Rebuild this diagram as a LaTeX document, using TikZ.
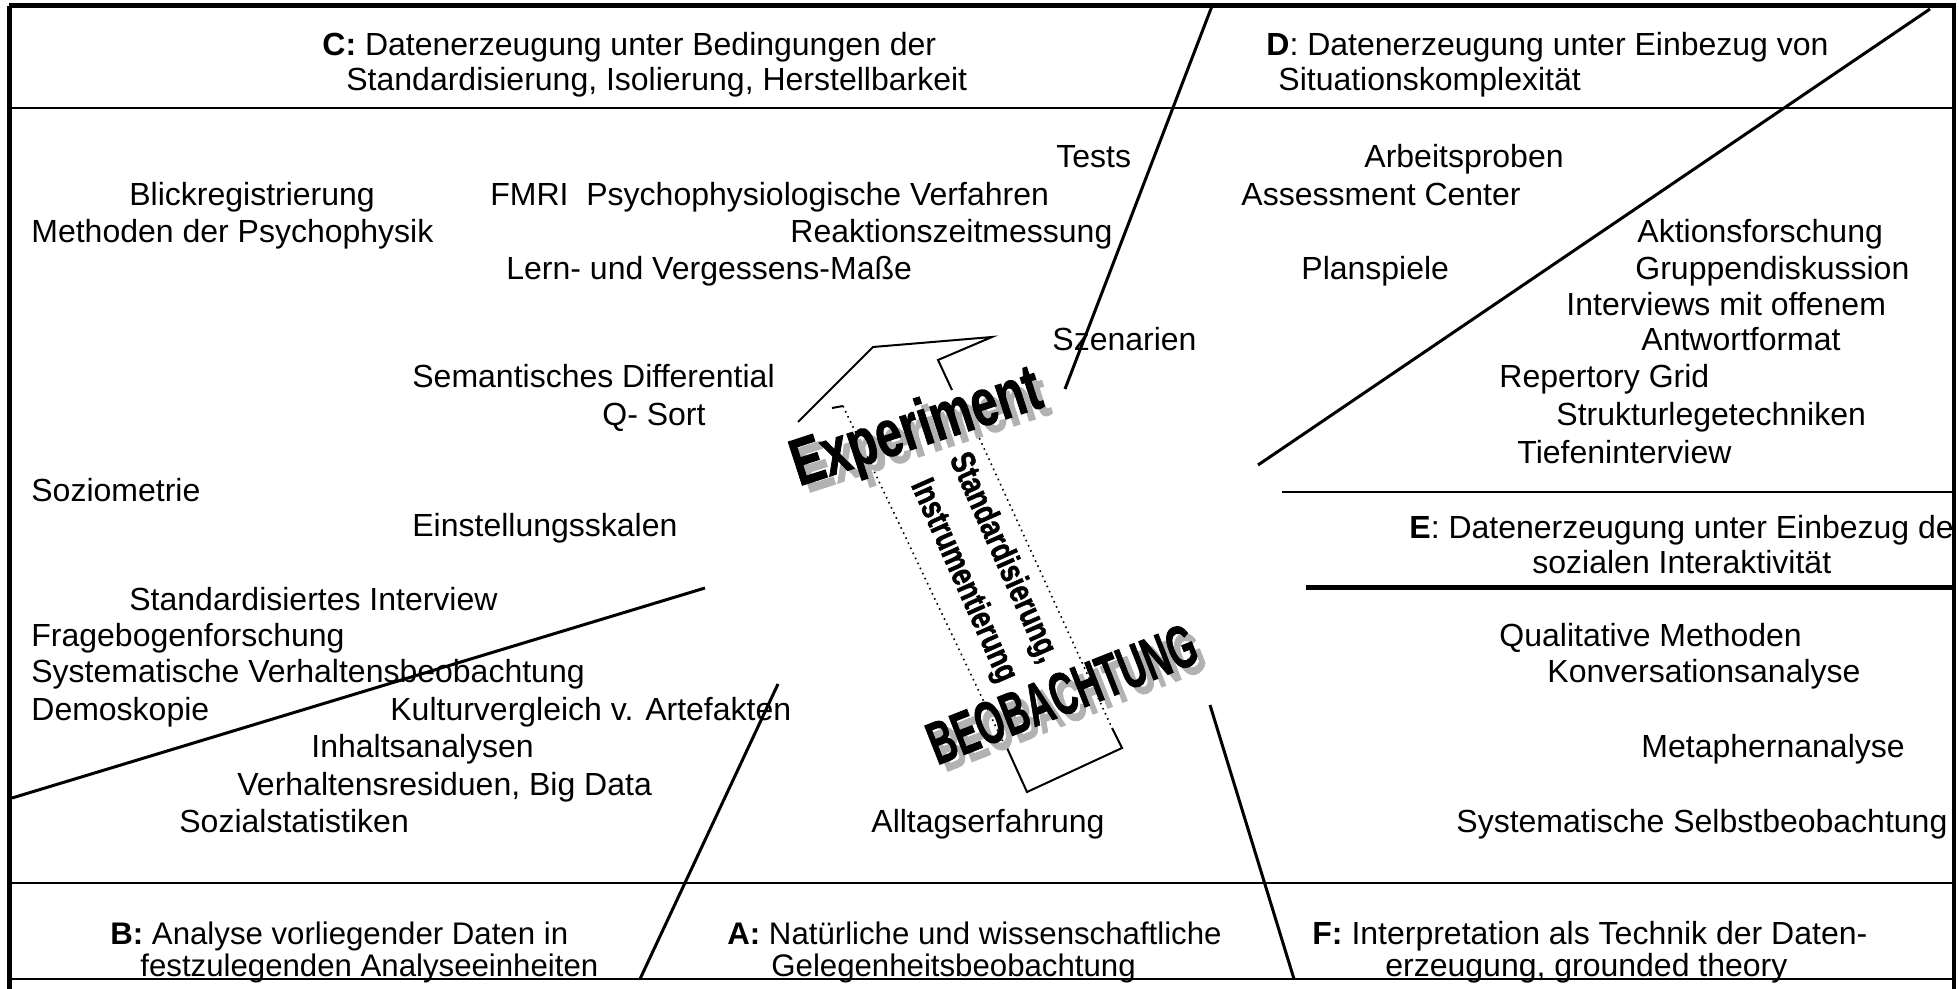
\documentclass[tikz,border=0pt]{standalone}
\usepackage{fontspec}
\setmainfont{Liberation Sans}
\newfontfamily\heavyfont[BoldFeatures={FakeBold=1.6}]{Liberation Sans}
\begin{document}
\begin{tikzpicture}[x=0.5pt,y=-0.5pt,
  frame/.style={line width=2.5pt},
  rule/.style={line width=1.25pt},
  diag/.style={line width=1.5pt},
  lbl/.style={anchor=base west, inner sep=0pt, font=\fontsize{16}{19}\selectfont},
  foot/.style={anchor=base west, inner sep=0pt, font=\fontsize{15.6}{18}\selectfont},
  bigword/.style={inner sep=0pt, font=\heavyfont\bfseries\fontsize{33}{36}\selectfont},
  midword/.style={inner sep=0pt, font=\heavyfont\bfseries\fontsize{30}{34}\selectfont},
  sideword/.style={inner sep=0pt, rotate=-66, font=\heavyfont\bfseries\fontsize{17}{20}\selectfont},
  shadow/.style={text=black!30},
  outline/.style={line width=1pt},
  hidden/.style={line width=0.8pt, dotted}
]
\useasboundingbox (0,0) rectangle (1959,989);

% outer frame and horizontal rules
\draw[frame] (9,6) -- (1956,6);
\draw[frame] (9.5,6) -- (9.5,989);
\draw[line width=2.25pt] (1954,6) -- (1954,989);
\draw[line width=1pt] (9,979) -- (1954,979);
\draw[rule] (9,108) -- (1954,108);
\draw[rule] (9,883) -- (1954,883);
\draw[rule] (1282,492) -- (1954,492);
\draw[frame] (1306,587) -- (1954,587);

% sector boundaries
\draw[diag] (1212,6) -- (1065,389);
\draw[diag] (1930,9) -- (1258,465);
\draw[diag] (12,798) -- (705,588);
\draw[diag] (640,979) -- (778,684);
\draw[diag] (1210,705) -- (1294,979);

% the large arrow from observation to experiment
\draw[outline] (798,422) -- (873,347) -- (992,337) -- (938,360) -- (952,390);
\draw[outline] (832,408) -- (843,406);
\draw[hidden] (843,406) -- (1005,746);
\draw[hidden] (977,433) -- (1112,728);
\draw[outline] (1007,748) -- (1027,792) -- (1122,748) -- (1112,728);

\node[sideword] (std) at (1003,558) {\scalebox{0.78}[1]{Standardisierung,}};
\node[sideword] (instr) at (963,581) {\scalebox{0.78}[1]{Instrumentierung}};

\node[bigword, shadow, rotate=18] at (925,437) {\scalebox{0.72}[1]{Experiment}};
\node[bigword, rotate=18] (exp) at (917,430) {\scalebox{0.72}[1]{Experiment}};
\node[midword, shadow, rotate=21.5] at (1070,701) {\scalebox{0.6}[1]{BEOBACHTUNG}};
\node[midword, rotate=21.5] (beob) at (1062,694) {\scalebox{0.6}[1]{BEOBACHTUNG}};

\begin{scope}
\clip (12,0) rectangle (1952,989);
% headers
\node[lbl] (c1) at (322,56) {\textbf{C:} Datenerzeugung unter Bedingungen der};
\node[lbl] (c2) at (346,91) {Standardisierung, Isolierung, Herstellbarkeit};
\node[lbl] (d1) at (1266,56) {\textbf{D}: Datenerzeugung unter Einbezug von};
\node[lbl] (d2) at (1278,91) {Situationskomplexität};
\node[lbl] (e1) at (1409,538) {\textbf{E}: Datenerzeugung unter Einbezug der};
\node[lbl] (e2) at (1532,573) {sozialen Interaktivität};
\node[foot] (b1) at (110,944) {\textbf{B:} Analyse vorliegender Daten in};
\node[foot] (b2) at (140,976) {festzulegenden Analyseeinheiten};
\node[foot] (a1) at (727,944) {\textbf{A:} Natürliche und wissenschaftliche};
\node[foot] (a2) at (771,976) {Gelegenheitsbeobachtung};
\node[lbl] (f1) at (1312,944) {\textbf{F:} Interpretation als Technik der Daten-};
\node[lbl] (f2) at (1385,976) {erzeugung, grounded theory};

% methods
\node[lbl] (tests) at (1056,168) {Tests};
\node[lbl] (blick) at (129,206) {Blickregistrierung};
\node[lbl] (fmri) at (490,206) {FMRI\ \ Psychophysiologische Verfahren};
\node[lbl] (pphys) at (31,243) {Methoden der Psychophysik};
\node[lbl] (reakt) at (790,243) {Reaktionszeitmessung};
\node[lbl] (lern) at (506,280) {Lern- und Vergessens-Maße};
\node[lbl] (szen) at (1052,351) {Szenarien};
\node[lbl] (sem) at (412,387) {Semantisches Differential};
\node[lbl] (qsort) at (602,426) {Q- Sort};
\node[lbl] (sozio) at (31,501) {Soziometrie};
\node[lbl] (einst) at (412,536) {Einstellungsskalen};
\node[lbl] (stdint) at (129,610) {Standardisiertes Interview};
\node[lbl] (frage) at (31,646) {Fragebogenforschung};
\node[lbl] (sysv) at (31,682) {Systematische Verhaltensbeobachtung};
\node[lbl] (demo) at (31,720) {Demoskopie};
\node[lbl] (kult) at (390,720) {Kulturvergleich v. Artefakten};
\node[lbl] (inh) at (311,757) {Inhaltsanalysen};
\node[lbl] (resid) at (237,795) {Verhaltensresiduen, Big Data};
\node[lbl] (sstat) at (179,832) {Sozialstatistiken};
\node[lbl] (alltag) at (871,832) {Alltagserfahrung};
\node[lbl] (arbeit) at (1364,168) {Arbeitsproben};
\node[lbl] (assess) at (1241,206) {Assessment Center};
\node[lbl] (aktion) at (1637,243) {Aktionsforschung};
\node[lbl] (plan) at (1301,280) {Planspiele};
\node[lbl] (grupp) at (1635,280) {Gruppendiskussion};
\node[lbl] (interv) at (1566,316) {Interviews mit offenem};
\node[lbl] (antw) at (1641,351) {Antwortformat};
\node[lbl] (repg) at (1499,387) {Repertory Grid};
\node[lbl] (strukt) at (1556,426) {Strukturlegetechniken};
\node[lbl] (tiefen) at (1517,463) {Tiefeninterview};
\node[lbl] (qual) at (1499,646) {Qualitative Methoden};
\node[lbl] (konv) at (1547,682) {Konversationsanalyse};
\node[lbl] (meta) at (1641,757) {Metaphernanalyse};
\node[lbl] (selbst) at (1456,832) {Systematische Selbstbeobachtung};
\end{scope}
\end{tikzpicture}
\end{document}
